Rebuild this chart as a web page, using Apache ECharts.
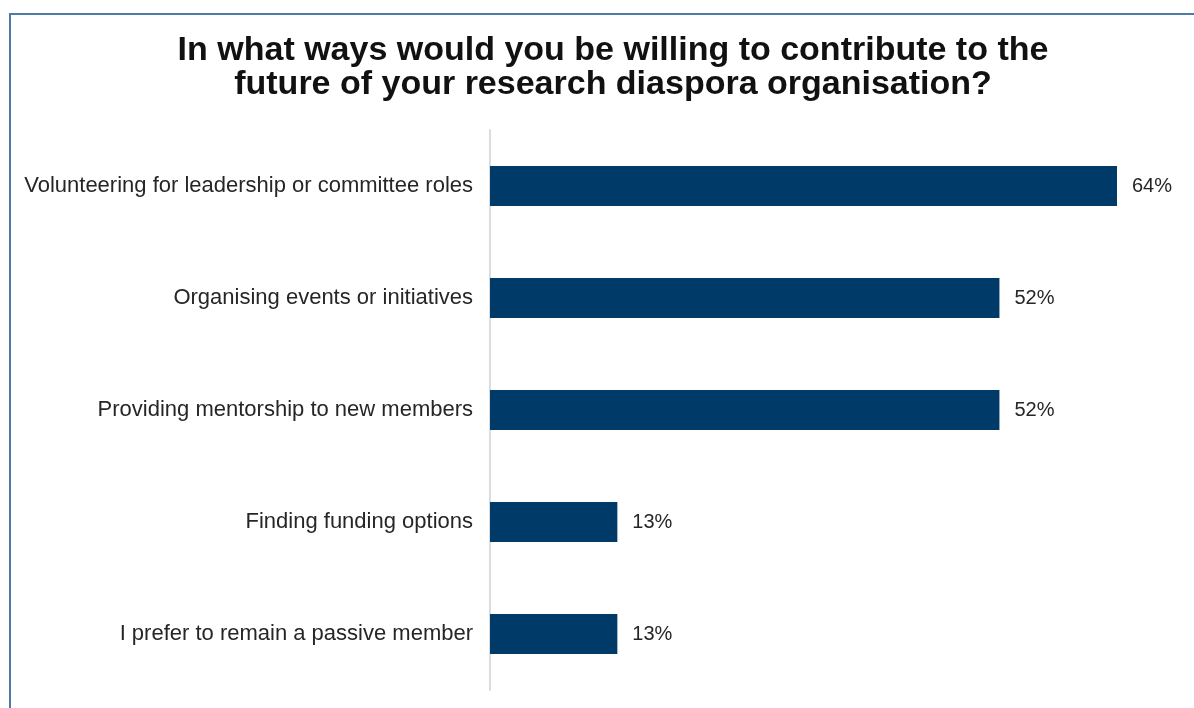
<!DOCTYPE html>
<html>
<head>
<meta charset="utf-8">
<script src="https://cdn.jsdelivr.net/npm/echarts@6/dist/echarts.min.js"></script>
<style>
  html, body { margin: 0; padding: 0; background: #ffffff; }
  #frame {
    position: absolute; left: 9px; top: 13px; width: 1200px; height: 720px;
    border: 2px solid #4f7aa6; box-sizing: border-box;
  }
  #chart { position: absolute; left: 0; top: 0; width: 1194px; height: 708px; }
</style>
</head>
<body>
<div id="frame"></div>
<div id="chart"></div>
<script>
// Survey answers, top to bottom
const categories = [
  'Volunteering for leadership or committee roles',
  'Organising events or initiatives',
  'Providing mentorship to new members',
  'Finding funding options',
  'I prefer to remain a passive member'
];
// Share of respondents (%)
const percentages = [64, 52, 52, 13, 13];

const chart = echarts.init(document.getElementById('chart'), null, { renderer: 'canvas' });

chart.setOption({
  backgroundColor: 'transparent',
  animation: false,
  title: {
    text: 'In what ways would you be willing to contribute to the\nfuture of your research diaspora organisation?',
    left: 608,
    top: 29,
    textAlign: 'center',
    textStyle: {
      fontFamily: 'Liberation Sans, Arial, sans-serif',
      fontWeight: 'bold',
      fontSize: 34,
      lineHeight: 34,
      color: '#111111'
    }
  },
  grid: { left: 490, top: 130, width: 627, height: 560, containLabel: false },
  xAxis: {
    type: 'value',
    min: 0,
    max: 64,
    show: false
  },
  yAxis: {
    type: 'category',
    inverse: true,
    data: categories,
    axisLine: { show: true, lineStyle: { color: '#dcdcdc', width: 2 } },
    axisTick: { show: false },
    axisLabel: {
      margin: 17,
      fontFamily: 'Liberation Sans, Arial, sans-serif',
      fontSize: 22,
      color: '#262626'
    }
  },
  series: [{
    type: 'bar',
    data: percentages,
    barWidth: 40,
    itemStyle: { color: '#003a69' },
    label: {
      show: true,
      position: 'right',
      distance: 15,
      formatter: p => p.value + '%',
      fontFamily: 'Liberation Sans, Arial, sans-serif',
      fontSize: 20,
      color: '#262626'
    }
  }]
});
</script>
</body>
</html>
